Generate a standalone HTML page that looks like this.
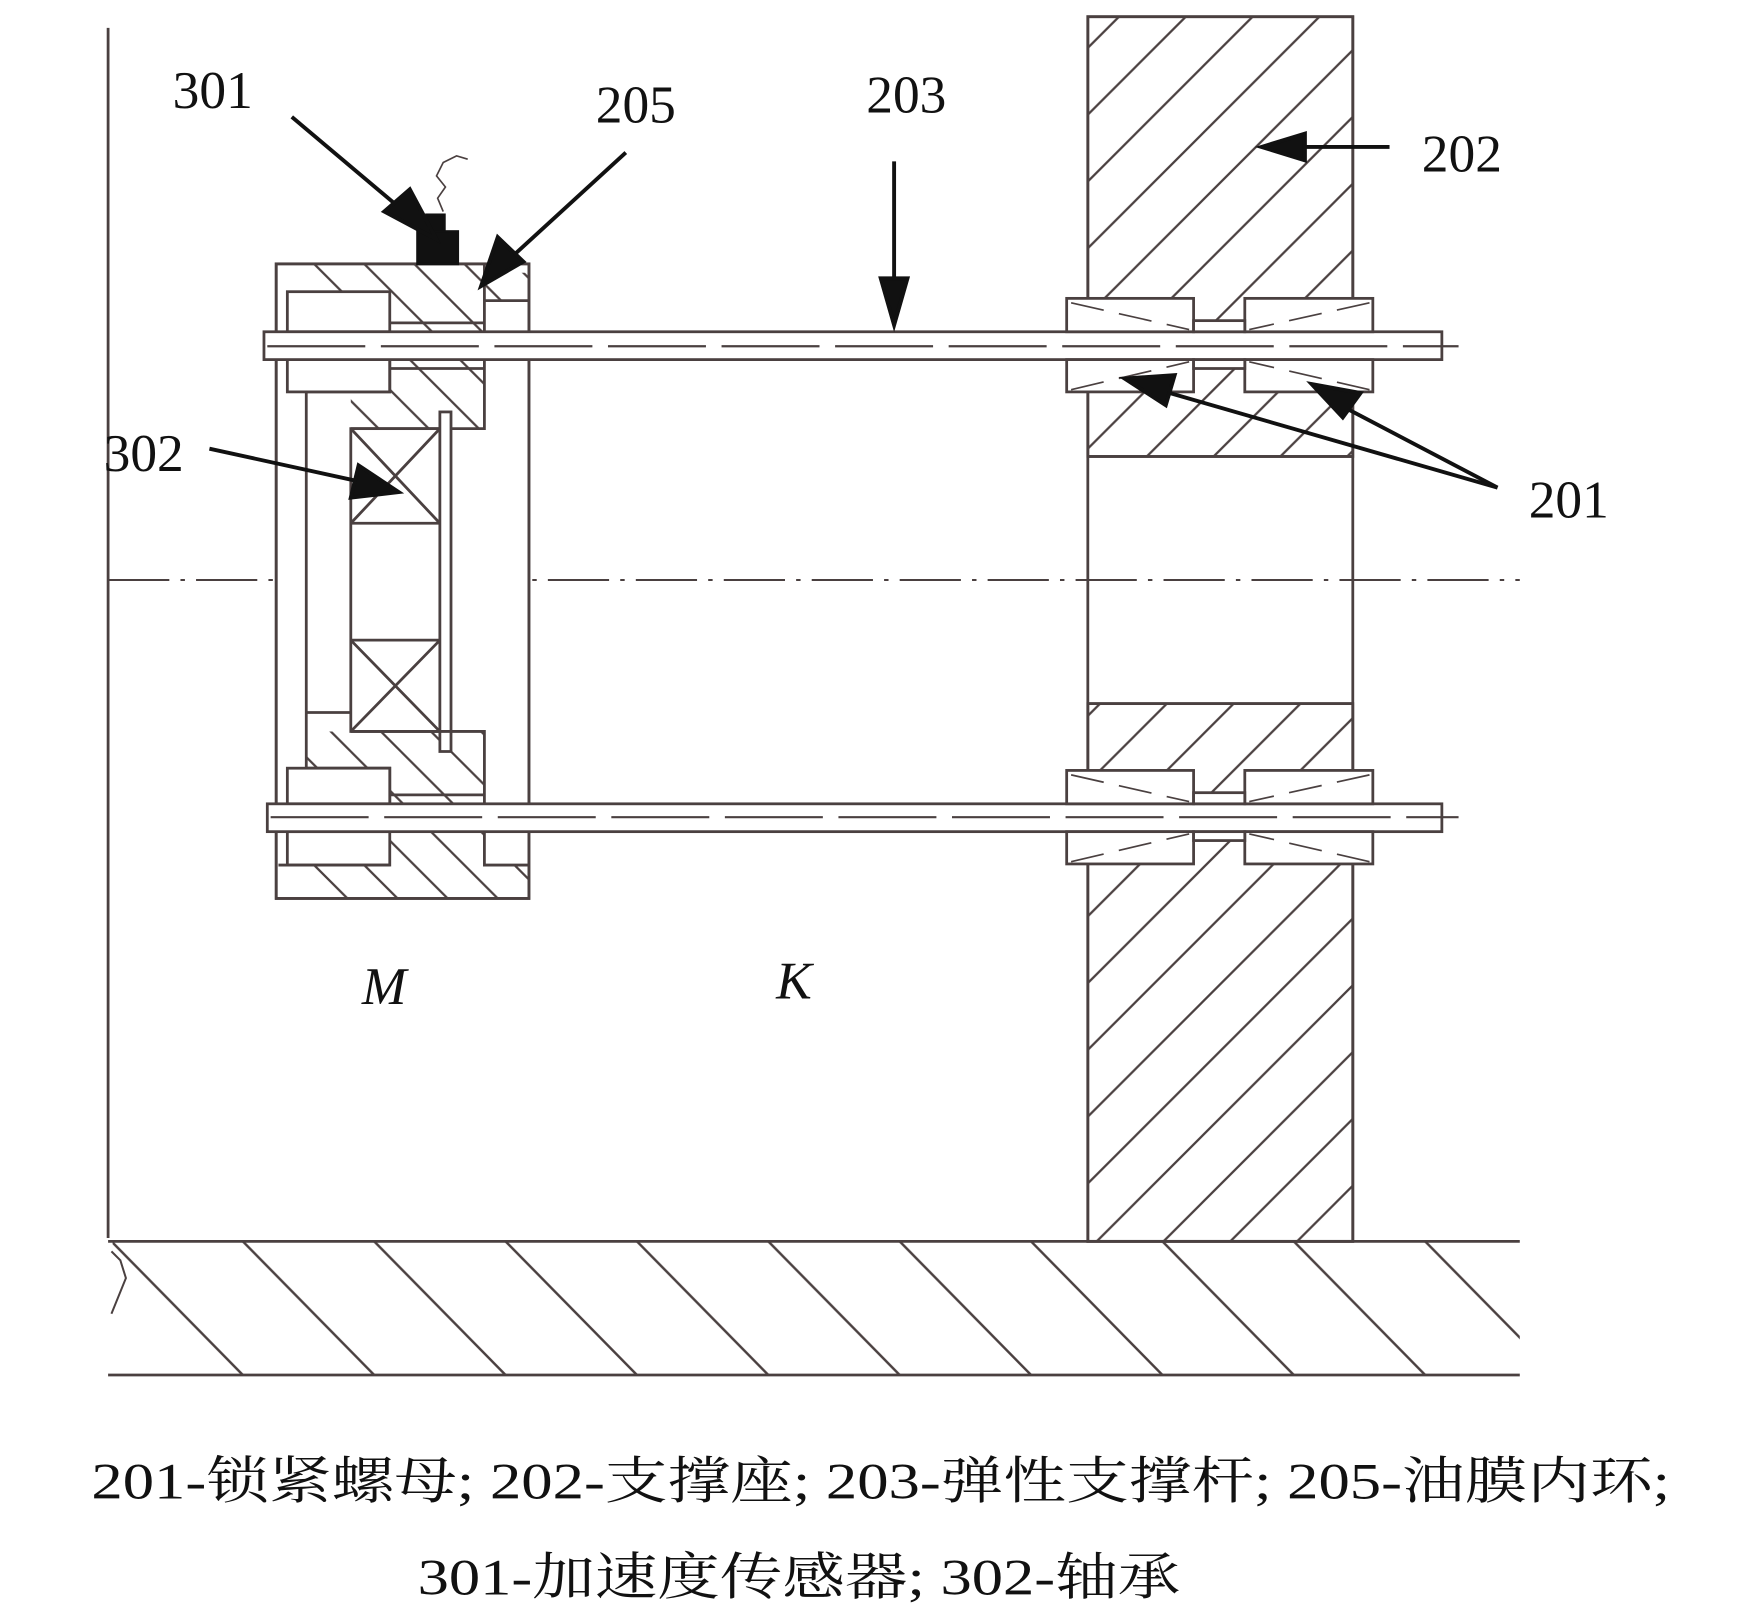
<!DOCTYPE html>
<html><head><meta charset="utf-8"><style>
html,body{margin:0;padding:0;background:#fff;}
svg{display:block;}
text{font-family:"Liberation Serif","Noto Serif CJK SC",serif;fill:#111;}
</style></head><body>
<svg width="1737" height="1621" viewBox="0 0 1560 1456" xmlns="http://www.w3.org/2000/svg">
<defs>
<pattern id="h202" patternUnits="userSpaceOnUse" width="60" height="60">
<path d="M-15,75 L75,-15 M-45,45 L45,-45 M15,105 L105,15" stroke="#4a4040" stroke-width="2"/>
</pattern>
<pattern id="hg" patternUnits="userSpaceOnUse" x="-18" y="1115" width="118" height="120">
<path d="M0,0 L118,120 M118,0 L236,120 M-118,0 L0,120" stroke="#4a4040" stroke-width="2.2"/>
</pattern>
<pattern id="hh" patternUnits="userSpaceOnUse" width="45" height="45">
<path d="M0,0 L45,45 M-45,0 L0,45 M45,0 L90,45 M0,-45 L45,0 M0,45 L45,90" stroke="#4a4040" stroke-width="2"/>
</pattern>
</defs>
<g stroke="#4a4040" stroke-width="2.5" fill="none">
<line x1="97" y1="25" x2="97" y2="1112"/>
<rect x="977" y="15" width="238" height="395" fill="url(#h202)"/>
<rect x="977" y="632" width="238" height="483" fill="url(#h202)"/>
<rect x="977" y="15" width="238" height="1100"/>
<line x1="977" y1="410" x2="1215" y2="410"/>
<line x1="977" y1="632" x2="1215" y2="632"/>
<rect x="101" y="1115" width="1264" height="120" fill="url(#hg)" stroke="none"/>
<line x1="97" y1="1115" x2="1365" y2="1115"/>
<line x1="97" y1="1235" x2="1365" y2="1235"/>
<path d="M100,1124 L108,1132 L113,1148 L100,1180" stroke-width="1.8"/>
<line x1="97" y1="521" x2="1365" y2="521" stroke-width="1.8" stroke-dasharray="55,10,4,10"/>
<rect x="248" y="237" width="227" height="570" fill="#fff"/>
<path d="M275,237 L435,237 L435,298 L350,298 L350,262 L275,262 Z" fill="url(#hh)" stroke="none"/>
<path d="M350,323 L435,323 L435,385 L405,385 L405,370 L395,370 L395,385 L315,385 L315,352 L275,352 L275,350 L350,350 Z" fill="url(#hh)" stroke="none"/>
<path d="M275,657 L435,657 L435,722 L350,722 L350,690 L275,690 Z" fill="url(#hh)" stroke="none"/>
<path d="M350,747 L435,747 L435,777 L475,777 L475,807 L275,807 L275,777 L350,777 Z" fill="url(#hh)" stroke="none"/>
<path d="M435,245 L475,245 L475,270 L435,270 Z" fill="url(#hh)" stroke="none"/>
<rect x="248" y="237" width="227" height="570"/>
<line x1="275" y1="352" x2="275" y2="690"/>
<rect x="258" y="262" width="92" height="36" fill="#fff"/>
<rect x="258" y="323" width="92" height="29" fill="#fff"/>
<path d="M435,237 L435,298 M435,270 L475,270 M350,290 L435,290"/>
<path d="M350,323 L350,352 L275,352"/>
<path d="M435,323 L435,385 L315,385"/>
<path d="M350,331 L435,331"/>
<rect x="315" y="385" width="80" height="272" fill="#fff"/>
<path d="M315,385 L395,470 M395,385 L315,470 M315,470 L395,470 M315,575 L395,575 M315,575 L395,657 M395,575 L315,657"/>
<rect x="395" y="370" width="10" height="305" fill="#fff"/>
<path d="M275,640 L315,640 M315,657 L435,657 L435,722 M275,690 L350,690 L350,722"/>
<rect x="258" y="690" width="92" height="32" fill="#fff"/>
<rect x="258" y="747" width="92" height="30" fill="#fff"/>
<path d="M350,714 L435,714 M350,747 L435,747 L435,777 L475,777 M250,777 L350,777"/>
<path d="M398,190 L393,178 L400,168 L392,158 L398,146 L410,140 L420,143" stroke-width="1.5"/>
<rect x="383" y="193" width="16" height="20" fill="#111" stroke="#111"/>
<rect x="375" y="208" width="36" height="29" fill="#111" stroke="#111"/>
<rect x="237" y="298" width="1058" height="25" fill="#fff"/>
<line x1="240" y1="311" x2="1310" y2="311" stroke-width="2" stroke-dasharray="88,14"/>
<rect x="240" y="722" width="1055" height="25" fill="#fff"/>
<line x1="243" y1="734" x2="1310" y2="734" stroke-width="2" stroke-dasharray="88,14"/>
<rect x="958" y="268" width="114" height="30" fill="#fff"/>
<rect x="958" y="323" width="114" height="29" fill="#fff"/>
<rect x="1118" y="268" width="115" height="30" fill="#fff"/>
<rect x="1118" y="323" width="115" height="29" fill="#fff"/>
<rect x="1072" y="288" width="46" height="10" fill="#fff"/>
<rect x="1072" y="323" width="46" height="8" fill="#fff"/>
<path d="M962,272 L1068,296 M962,350 L1068,325 M1230,272 L1122,296 M1230,350 L1122,325" stroke-width="1.5" stroke-dasharray="30,14"/>
<rect x="958" y="692" width="114" height="30" fill="#fff"/>
<rect x="958" y="747" width="114" height="29" fill="#fff"/>
<rect x="1118" y="692" width="115" height="30" fill="#fff"/>
<rect x="1118" y="747" width="115" height="29" fill="#fff"/>
<rect x="1072" y="712" width="46" height="10" fill="#fff"/>
<rect x="1072" y="747" width="46" height="8" fill="#fff"/>
<path d="M962,696 L1068,720 M962,774 L1068,749 M1230,696 L1122,720 M1230,774 L1122,749" stroke-width="1.5" stroke-dasharray="30,14"/>
</g>
<g stroke="#111" stroke-width="3.5" fill="#111">
<line x1="262" y1="105" x2="370" y2="196"/>
<path d="M392,215 L345,190 L368,170 Z"/>
<line x1="562" y1="137" x2="455" y2="235"/>
<path d="M432,257 L447,213 L470,235 Z"/>
<line x1="803" y1="145" x2="803" y2="260"/>
<path d="M803,292 L791,250 L815,250 Z"/>
<line x1="1248" y1="132" x2="1170" y2="132"/>
<path d="M1133,132 L1172,120 L1172,144 Z"/>
<line x1="188" y1="403" x2="325" y2="433"/>
<path d="M358,442 L315,447 L322,418 Z"/>
<line x1="1345" y1="438" x2="1040" y2="350"/>
<path d="M1010,340 L1055,337 L1047,364 Z"/>
<line x1="1345" y1="438" x2="1200" y2="362"/>
<path d="M1178,345 L1222,353 L1206,375 Z"/>
</g>
<g font-size="48">
<text x="155" y="97">301</text>
<text x="535" y="110">205</text>
<text x="778" y="101">203</text>
<text x="1277" y="154">202</text>
<text x="93" y="423">302</text>
<text x="1373" y="465">201</text>
<text x="325" y="902" font-style="italic">M</text>
<text x="697" y="897" font-style="italic">K</text>
</g>
<g font-size="46">
<text x="82" y="1346" textLength="1418" lengthAdjust="spacingAndGlyphs">201-锁紧螺母; 202-支撑座; 203-弹性支撑杆; 205-油膜内环;</text>
<text x="375" y="1432" textLength="685" lengthAdjust="spacingAndGlyphs">301-加速度传感器; 302-轴承</text>
</g>
</svg>
</body></html>
